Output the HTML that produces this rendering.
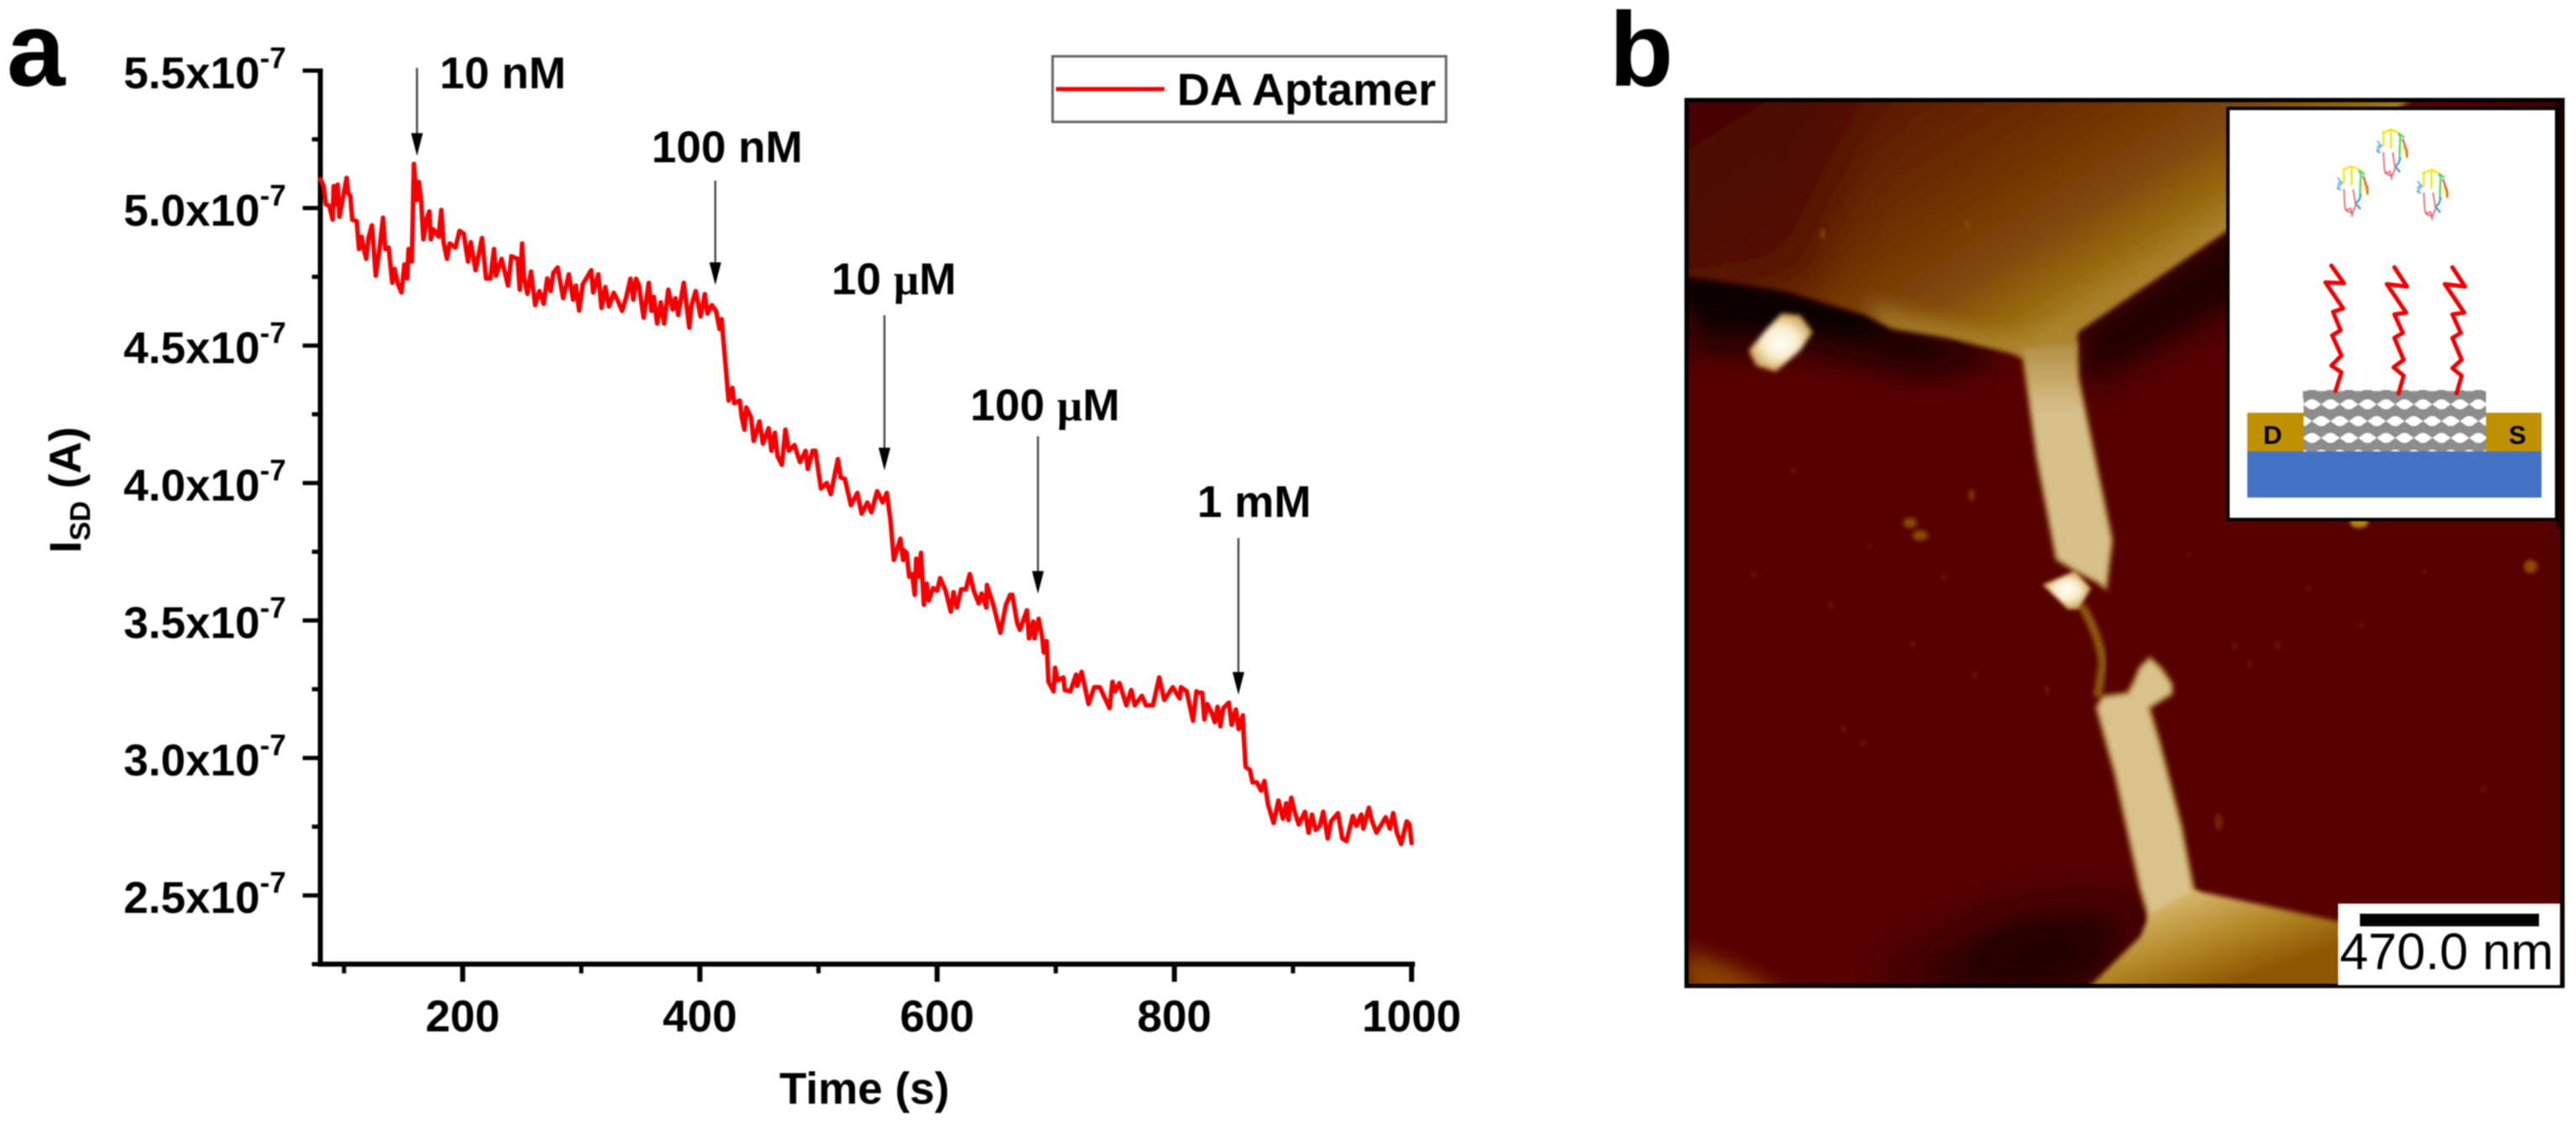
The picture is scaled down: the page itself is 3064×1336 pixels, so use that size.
<!DOCTYPE html>
<html lang="en">
<head>
<meta charset="utf-8">
<title>DA Aptamer sensing and AFM image</title>
<style>
html,body{margin:0;padding:0;background:#fff;}
body{width:3064px;height:1336px;overflow:hidden;}
svg{display:block;filter:blur(0.7px);}
text{font-family:"Liberation Sans",sans-serif;fill:#000;}
.b{font-weight:bold;font-size:53px;}
</style>
</head>
<body>
<svg id="figure" width="3064" height="1336" viewBox="0 0 3064 1336" xmlns="http://www.w3.org/2000/svg">
<defs>
  <clipPath id="frameClip"><rect x="2004" y="117" width="1046" height="1058"/></clipPath>
  <clipPath id="topElectrodeClip"><polygon points="2004,117 2870,117 2646,277 2472,395 2468,426 2405,426 2390,420 2316,402 2249,391 2219,375 2123,346 2004,328"/></clipPath>
  <filter id="blur2" x="-20%" y="-20%" width="140%" height="140%"><feGaussianBlur stdDeviation="2"/></filter>
  <filter id="blur3" x="-20%" y="-20%" width="140%" height="140%"><feGaussianBlur stdDeviation="3"/></filter>
  <filter id="blur6" x="-30%" y="-30%" width="160%" height="160%"><feGaussianBlur stdDeviation="6"/></filter>
  <filter id="blur12" x="-40%" y="-40%" width="180%" height="180%"><feGaussianBlur stdDeviation="12"/></filter>
  <filter id="blur20" x="-40%" y="-40%" width="180%" height="180%"><feGaussianBlur stdDeviation="20"/></filter>
  <filter id="blur30" x="-60%" y="-60%" width="220%" height="220%"><feGaussianBlur stdDeviation="30"/></filter>
  <linearGradient id="topElectrode" gradientUnits="userSpaceOnUse" x1="1857" y1="150" x2="2126" y2="587">
    <stop offset="0" stop-color="#4a0600"/><stop offset="0.35" stop-color="#5c1a00"/>
    <stop offset="0.6" stop-color="#6e3000"/><stop offset="0.8" stop-color="#80480a"/><stop offset="0.92" stop-color="#96680c"/><stop offset="1" stop-color="#a8802a"/>
  </linearGradient>
  <linearGradient id="bottomElectrode" gradientUnits="userSpaceOnUse" x1="2600" y1="1060" x2="2640" y2="1175">
    <stop offset="0" stop-color="#d8b970"/><stop offset="0.5" stop-color="#b58a2a"/><stop offset="1" stop-color="#8e5600"/>
  </linearGradient>
  <linearGradient id="upperWireFill" gradientUnits="userSpaceOnUse" x1="2440" y1="405" x2="2440" y2="490">
    <stop offset="0" stop-color="#b08c40"/><stop offset="1" stop-color="#d8c08a"/>
  </linearGradient>
  <radialGradient id="particleGlow"><stop offset="0" stop-color="#ffffff"/><stop offset="0.55" stop-color="#f8ecc8"/><stop offset="1" stop-color="#d2a85c"/></radialGradient>
  <pattern id="cntLattice" patternUnits="userSpaceOnUse" x="2739" y="471" width="22" height="40">
    <rect width="22" height="40" fill="#8d8d8d"/>
    <ellipse cx="11" cy="10" rx="7.5" ry="6" fill="#fff"/>
    <ellipse cx="0" cy="30" rx="7.5" ry="6" fill="#fff"/>
    <ellipse cx="22" cy="30" rx="7.5" ry="6" fill="#fff"/>
    <path d="M0 10 l4 -3 v6z M22 10 l-4 -3 v6z M11 30 l-4 -3 v6z M11 30 l4 -3 v6z" fill="#fff"/>
  </pattern>
  <g id="aptamerGlyph" fill="none" stroke-linecap="round" opacity="0.85">
    <path d="M-10 -24V-8M-1 -27V-6M-11 -24L-1 -28L8 -24M14 -8L18 6" stroke="#f2e400" stroke-width="2.6" stroke-dasharray="4 1.5"/>
    <path d="M8 -22L10 -20L9 6M9 -23L14 -19" stroke="#3fd03f" stroke-width="2.4"/>
    <path d="M13 -16L18 -2L18 4" stroke="#e0403c" stroke-width="2.4"/>
    <path d="M-17 -14L-12 -8L-17 -4L-14 0L-18 -2M-15 -9L-18 -6" stroke="#5aa8ec" stroke-width="2" stroke-dasharray="3 1.4"/>
    <path d="M10 6L8 12L4 16L9 22" stroke="#2a8ee8" stroke-width="2.6" stroke-dasharray="4 1.5"/>
    <path d="M-10 0L-9 18L-8 24L0 28L4 18L1 0M-8 24L-2 22L0 31" stroke="#e8505a" stroke-width="1.9" stroke-dasharray="3 1.3"/>
  </g>
</defs>

<rect width="3064" height="1336" fill="#fff"/>

<text x="8" y="102" font-size="125" font-weight="bold">a</text>
<text x="1914" y="102" font-size="125" font-weight="bold">b</text>

<g id="chart"></g>

<text class="b" x="927" y="1313">Time (s)</text>
<text class="b" transform="translate(96,658) rotate(-90)">I<tspan font-size="34" dy="11">SD</tspan><tspan dy="-11"> (A)</tspan></text>

<text class="b" x="523" y="105">10 nM</text>
<text class="b" x="775" y="193">100 nM</text>
<text class="b" x="989" y="350">10 <tspan font-family="Liberation Serif">µ</tspan>M</text>
<text class="b" x="1154" y="500">100 <tspan font-family="Liberation Serif">µ</tspan>M</text>
<text class="b" x="1424" y="615">1 mM</text>

<g>
  <rect x="1252" y="67" width="468" height="78" fill="#fff" stroke="#666" stroke-width="3"/>
  <line x1="1256" y1="106" x2="1385" y2="106" stroke="#f00000" stroke-width="5"/>
  <text class="b" x="1400" y="125" style="font-size:54px">DA Aptamer</text>
</g>

<g>
  <g clip-path="url(#frameClip)">
    <rect x="2004" y="117" width="1046" height="1058" fill="#570000"/>
    <polygon points="2004,325 2123,346 2219,375 2316,402 2390,420 2290,440 2150,410 2004,410" fill="#0e0000" filter="url(#blur20)"/>
    <polygon points="2004,328 2123,346 2219,375 2249,391 2200,395 2004,365" fill="#080000" filter="url(#blur6)"/>
    <polygon points="2472,395 2660,270 3050,120 3050,300 2660,360 2480,460" fill="#1c0000" filter="url(#blur20)"/>
    <polygon points="2557,1087 2479,1175 2230,1180 2400,1090" fill="#160000" filter="url(#blur30)"/>
    <polygon points="2004,1130 2060,1150 2130,1185 2004,1185" fill="#8a4400" filter="url(#blur12)"/>
    <path filter="url(#blur2)" fill="#6a1600" d="M2083 683a3 4 0 1 0 6 0a3 4 0 1 0-6 0M2175 720a3 4 0 1 0 6 0a3 4 0 1 0-6 0M2272 766a3 4 0 1 0 6 0a3 4 0 1 0-6 0M2346 803a3 4 0 1 0 6 0a3 4 0 1 0-6 0M2432 821a3 5 0 1 0 6 0a3 5 0 1 0-6 0M2190 867a3 5 0 1 0 6 0a3 5 0 1 0-6 0M2213 884a3 4 0 1 0 6 0a3 4 0 1 0-6 0M2655 768a3 5 0 1 0 6 0a3 5 0 1 0-6 0M2673 790a3 4 0 1 0 6 0a3 4 0 1 0-6 0M2706 768a3 6 0 1 0 6 0a3 6 0 1 0-6 0M2806 744a3 3 0 1 0 6 0a3 3 0 1 0-6 0M2951 939a3 4 0 1 0 6 0a3 4 0 1 0-6 0M2309 687a3 4 0 1 0 6 0a3 4 0 1 0-6 0M2743 700a3 3 0 1 0 6 0a3 3 0 1 0-6 0M2130 560a3 4 0 1 0 6 0a3 4 0 1 0-6 0M2220 650a3 3 0 1 0 6 0a3 3 0 1 0-6 0M2600 660a3 3 0 1 0 6 0a3 3 0 1 0-6 0M2880 680a3 3 0 1 0 6 0a3 3 0 1 0-6 0"/>

    <g filter="url(#blur3)">
      <g clip-path="url(#topElectrodeClip)">
        <polygon points="2004,117 2870,117 2646,277 2472,395 2468,426 2405,426 2390,420 2316,402 2249,391 2219,375 2123,346 2004,328" fill="url(#topElectrode)"/>
        <polygon points="1800,-50 2250,-50 2150,345 1800,345" fill="#440400" opacity="0.6" filter="url(#blur30)"/>
        <polygon points="2220,360 2316,385 2400,405 2470,385 2480,430 2390,440 2240,400" fill="#ad8730" opacity="0.8" filter="url(#blur12)"/>
      </g>
    </g>
    <polygon points="2405,412 2470,408 2472,450 2512,643 2505,700 2494,692 2470,680 2446,665 2423,545" fill="url(#upperWireFill)" stroke="#ab852e" stroke-opacity="0.8" stroke-width="4" filter="url(#blur3)"/>
    <path d="M2476 720 C2490 745 2500 770 2501 790 L2495 829" fill="none" stroke="#8c5a10" stroke-width="10" filter="url(#blur3)"/>
    <polygon points="2431,696 2468,680 2486,700 2472,724 2460,724" fill="url(#particleGlow)" stroke="#c8a45c" stroke-width="2" filter="url(#blur2)"/>
    <polygon points="2557,783 2570,795 2583,814 2583,825 2556,842 2568,882 2594,982 2609,1059 2640,1090 2557,1095 2546,1057 2516,921 2494,842 2501,829 2531,825 2538,812 2545,795" fill="#dac28c" stroke="#ab852e" stroke-width="4" filter="url(#blur3)"/>
    <polygon points="2609,1059 2790,1098 2790,1180 2479,1180 2546,1114 2557,1087" fill="url(#bottomElectrode)" filter="url(#blur3)"/>
    <polygon points="2119,373 2141,375 2156,395 2141,417 2112,442 2089,435 2080,417 2100,393" fill="url(#particleGlow)" filter="url(#blur3)"/>
    <ellipse cx="2806" cy="621" rx="11" ry="7" fill="#b8860b" filter="url(#blur2)"/>
    <ellipse cx="2272" cy="622" rx="8" ry="6" fill="#8a5200" filter="url(#blur3)"/>
    <ellipse cx="2284" cy="637" rx="9" ry="6" fill="#8a5200" filter="url(#blur3)"/>
    <ellipse cx="2345" cy="589" rx="4" ry="7" fill="#7a3400" filter="url(#blur2)"/>
    <ellipse cx="3010" cy="674" rx="8" ry="8" fill="#8f4c00" filter="url(#blur2)"/>
    <ellipse cx="2639" cy="978" rx="5" ry="10" fill="#702400" filter="url(#blur2)"/>
    <ellipse cx="2340" cy="268" rx="3" ry="6" fill="#8a4800" filter="url(#blur2)"/>
    <ellipse cx="2168" cy="278" rx="3" ry="6" fill="#8a4000" filter="url(#blur2)"/>
  </g>
  <rect x="2006" y="119" width="1042" height="1054" fill="none" stroke="#000" stroke-width="5"/>
  <rect x="3041" y="119" width="8" height="510" fill="#180000"/>

  <g>
    <rect x="2650" y="129" width="391" height="489" fill="#fff" stroke="#000" stroke-width="4"/>
    <rect x="2673" y="537" width="350" height="55" fill="#4472c4"/>
    <rect x="2673" y="491" width="68" height="46" fill="#bf9000"/>
    <rect x="2956" y="491" width="67" height="46" fill="#bf9000"/>
    <rect x="2740" y="464" width="217" height="73" fill="url(#cntLattice)"/>
    <rect x="2739" y="465" width="218" height="9" fill="#8a8a8a" opacity="0.8"/>
    <text x="2692" y="528" font-size="31" font-weight="bold">D</text>
    <text x="2984" y="528" font-size="31" font-weight="bold">S</text>
    <g fill="none" stroke="#f00000" stroke-width="5" stroke-linejoin="round" stroke-linecap="round">
      <polyline points="2773,316 2788,337 2766,336 2787,367 2775,371 2784,393 2774,399 2785,423 2773,435 2785,443 2778,465"/>
      <polyline points="2848,318 2863,341 2839,338 2862,372 2848,374 2858,396 2848,402 2859,428 2847,437 2859,447 2853,468"/>
      <polyline points="2917,318 2932,341 2908,338 2931,372 2917,374 2927,396 2917,402 2928,428 2917,438 2928,447 2922,468"/>
    </g>
    <use href="#aptamerGlyph" x="2798" y="226"/>
    <use href="#aptamerGlyph" x="2845" y="182"/>
    <use href="#aptamerGlyph" x="2893" y="230"/>
  </g>

  <g>
    <rect x="2781" y="1075" width="264" height="97" fill="#fff"/>
    <rect x="2807" y="1087" width="213" height="15" fill="#000"/>
    <text x="2783" y="1153" font-size="61">470.0 nm</text>
  </g>
</g>

<script>
// Chart data: time in seconds, source-drain current in units of 1e-7 A
var timesS = [80,82.8,84.7,87.6,90.4,91.3,92.8,94.6,96.1,99.4,102.2,103.6,105.3,106.9,110.7,112.6,114.7,116.4,118.7,120.6,123.5,124.9,126.8,129.6,132.9,134.8,137.6,140.7,142.6,145.4,148.5,150.9,153.2,154.4,157.2,158.9,161.3,163.1,165,166.9,169.8,171.9,173.1,175.4,179.7,182,183.9,186.8,189.1,193.9,197.4,200.9,204.5,206.8,210.9,216.3,219.8,223.4,226.4,228.1,232.8,238.3,241.1,246.3,248.2,250.1,251.7,254.6,257.6,261.2,264.7,268.3,271.3,274.2,276.5,280.1,284.8,289.5,293.1,295.4,298.2,301.3,308.4,310.1,314.3,317.1,320.2,323.3,
323.8,327.3,330.9,334.4,338,341.5,343.9,346.2,348.6,352.6,356.9,359.2,361.1,364,367,369.9,373.4,377,379.3,381.7,386.4,391.1,393,396.5,400.6,404.1,406.5,410,413.6,416.6,418.3,421.8,424.2,427.3,428.9,433.6,435.3,437.6,439.1,443.1,445.4,450.2,453.2,458,460.3,463.2,465.5,469.1,472.1,475,479.7,484.4,489.1,491,495,497.4,502.1,506.9,510.4,516.3,518.7,522.2,527.4,532.8,536.4,541.1,544.6,549.4,554.1,557.6,560.7,563.5,569,571.3,
571.8,574.2,576.5,578.9,581.2,582.4,584.8,586.4,588.8,591.2,593.1,596.6,600.1,602.5,607.2,611.5,613.8,616.7,620.2,624.2,627.5,630.9,635.1,637.5,641.5,642,647.4,653.3,658,661.6,663.4,667.5,669.8,675.7,677.4,680.9,682.1,685.6,688.7,689.9,692.3,693.9,698.2,699.3,701.7,706.4,707.6,712.3,717.1,718.2,721.8,727.7,732.4,737.1,745.4,747.8,750.1,753.7,759.6,763.6,766.7,772.6,776.1,782,787.2,791.5,798.6,804.5,805.6,810.4,815.8,818.6,
819.9,823.5,825.3,827.7,831.7,834.1,836.4,838.8,841.2,845.9,848.3,851.8,854.2,857.7,858.4,860.1,863.6,866,869.5,873.1,875.9,879,883.7,887.7,891.5,894.3,896.2,898.6,901.4,904.9,910.1,913.2,916,919.1,922.7,925.5,929.3,932.1,938,941.6,945.1,950.5,953.4,957.6,959.3,964,966.4,970.4,978.2,981.7,984.5,987.6,991.2,995.9,998.2,1000];
var currentsE7 = [5.105,5.08,5.014,5.008,4.958,5.08,5.014,5.085,4.968,5.044,5.11,5.054,5.044,4.958,4.952,4.851,4.896,4.856,4.815,4.891,4.937,4.861,4.754,4.84,4.965,4.851,4.856,4.728,4.779,4.723,4.693,4.795,4.744,4.851,4.805,5.161,5.029,5.095,5.029,4.886,4.963,4.988,4.886,4.922,4.896,4.993,4.876,4.815,4.871,4.856,4.917,4.907,4.805,4.876,4.774,4.891,4.744,4.744,4.851,4.754,4.815,4.718,4.825,4.815,4.703,4.871,4.749,4.688,4.769,4.647,4.698,4.652,4.744,4.698,4.764,4.784,4.672,4.759,4.667,4.718,4.627,4.723,4.774,4.693,4.759,4.637,4.713,4.642,
4.647,4.692,4.662,4.626,4.677,4.743,4.667,4.743,4.718,4.601,4.728,4.626,4.677,4.58,4.657,4.58,4.703,4.631,4.672,4.611,4.728,4.565,4.647,4.698,4.606,4.687,4.616,4.647,4.626,4.56,4.596,4.423,4.3,4.346,4.29,4.3,4.239,4.194,4.275,4.239,4.153,4.224,4.143,4.199,4.117,4.183,4.097,4.066,4.194,4.117,4.138,4.076,4.117,4.051,4.117,4.117,3.98,4,3.959,4.087,4.02,4.015,3.919,3.964,3.888,3.929,3.893,3.97,3.929,3.964,3.863,3.72,3.797,3.72,
3.756,3.746,3.659,3.669,3.593,3.725,3.659,3.746,3.557,3.634,3.573,3.618,3.608,3.654,3.608,3.532,3.603,3.547,3.613,3.613,3.669,3.608,3.562,3.598,3.547,3.629,3.557,3.455,3.557,3.593,3.593,3.491,3.466,3.537,3.435,3.496,3.435,3.506,3.435,3.384,3.425,3.277,3.242,3.328,3.282,3.293,3.247,3.242,3.303,3.262,3.313,3.196,3.257,3.257,3.181,3.277,3.242,3.272,3.191,3.247,3.191,3.226,3.191,3.191,3.293,3.211,3.257,3.216,3.257,3.242,3.135,3.242,
3.237,3.237,3.14,3.196,3.161,3.13,3.186,3.115,3.181,3.201,3.12,3.176,3.105,3.155,3.089,2.967,2.957,2.911,2.911,2.881,2.916,2.83,2.763,2.845,2.779,2.835,2.774,2.855,2.804,2.758,2.804,2.728,2.794,2.738,2.753,2.804,2.707,2.769,2.799,2.707,2.697,2.789,2.753,2.794,2.743,2.819,2.774,2.728,2.784,2.743,2.799,2.728,2.687,2.769,2.758,2.69];
var xMajorTicks = [200,400,600,800,1000];
var xMinorTicks = [100,300,500,700,900];
var yMajorTicks = [5.5,5.0,4.5,4.0,3.5,3.0,2.5];
var yMinorTicks = [5.25,4.75,4.25,3.75,3.25,2.75,2.25];
var yTickLabels = ['5.5x10','5.0x10','4.5x10','4.0x10','3.5x10','3.0x10','2.5x10'];
var doseTimes = [161.5,413,555.6,685,854];
var doseArrowTop = [5.51,5.10,4.61,4.17,3.80];
var doseArrowTip = [5.19,4.72,4.046,3.597,3.23];

var SVGNS = 'http://www.w3.org/2000/svg';
var chart = document.getElementById('chart');
var xDomain = [80, 1000], xRange = [381, 1679];
var yDomain = [5.5, 2.25], yRange = [84, 1147];
function xScale(t){ return xRange[0] + (t - xDomain[0]) * (xRange[1] - xRange[0]) / (xDomain[1] - xDomain[0]); }
function yScale(v){ return yRange[0] + (v - yDomain[0]) * (yRange[1] - yRange[0]) / (yDomain[1] - yDomain[0]); }
function make(tag, attrs){
  var el = document.createElementNS(SVGNS, tag);
  for (var k in attrs) el.setAttribute(k, attrs[k]);
  chart.appendChild(el);
  return el;
}

// axes
var yAxisLine = make('line', {x1:381, y1:yScale(5.5)-2.5, x2:381, y2:1150, stroke:'#000', 'stroke-width':6});


var xAxisLine = make('line', {x1:378, y1:1147, x2:1683, y2:1147, stroke:'#000', 'stroke-width':6});



xMajorTicks.forEach(function(t){
  var x = xScale(t);
  var tick = make('line', {x1:x, y1:1147, x2:x, y2:1168, stroke:'#000', 'stroke-width':6});
  
  
  var label = make('text', {x:x, y:1227, 'text-anchor':'middle', 'class':'b'});
  label.textContent = String(t);
  
  
});
xMinorTicks.forEach(function(t){
  var x = xScale(t);
  var tick = make('line', {x1:x, y1:1147, x2:x, y2:1158, stroke:'#000', 'stroke-width':5});
  
  
});
yMajorTicks.forEach(function(v, i){
  var y = yScale(v);
  var tick = make('line', {x1:360, y1:y, x2:381, y2:y, stroke:'#000', 'stroke-width':5});
  
  
  var label = make('text', {x:147, y:y + 21, 'class':'b'});
  
  
  label.appendChild(document.createTextNode(yTickLabels[i]));
  var sup = document.createElementNS(SVGNS, 'tspan');
  sup.setAttribute('font-size', '35');
  sup.setAttribute('dy', '-24');
  sup.textContent = '-7';
  label.appendChild(sup);
});
yMinorTicks.forEach(function(v){
  var y = yScale(v);
  var tick = make('line', {x1:371, y1:y, x2:381, y2:y, stroke:'#000', 'stroke-width':5});
  
  
});

// series
var d = '';
timesS.forEach(function(t, i){
  d += (i ? 'L' : 'M') + xScale(t).toFixed(1) + ' ' + yScale(currentsE7[i]).toFixed(1);
});
var series = make('path', {d:d, fill:'none', stroke:'#f50000', 'stroke-width':5.4, 'stroke-linejoin':'round', 'stroke-linecap':'round'});



// concentration arrows
doseTimes.forEach(function(t, i){
  var x = xScale(t), y0 = yScale(doseArrowTop[i]), y1 = yScale(doseArrowTip[i]);
  var shaft = make('line', {x1:x, y1:y0, x2:x, y2:y1 - 24, stroke:'#444', 'stroke-width':2.4});
  
  
  var head = make('path', {d:'M' + (x - 7) + ' ' + (y1 - 27) + 'H' + (x + 7) + 'L' + x + ' ' + y1 + 'Z', fill:'#000'});
  
  
});
</script>
</svg>
</body>
</html>
